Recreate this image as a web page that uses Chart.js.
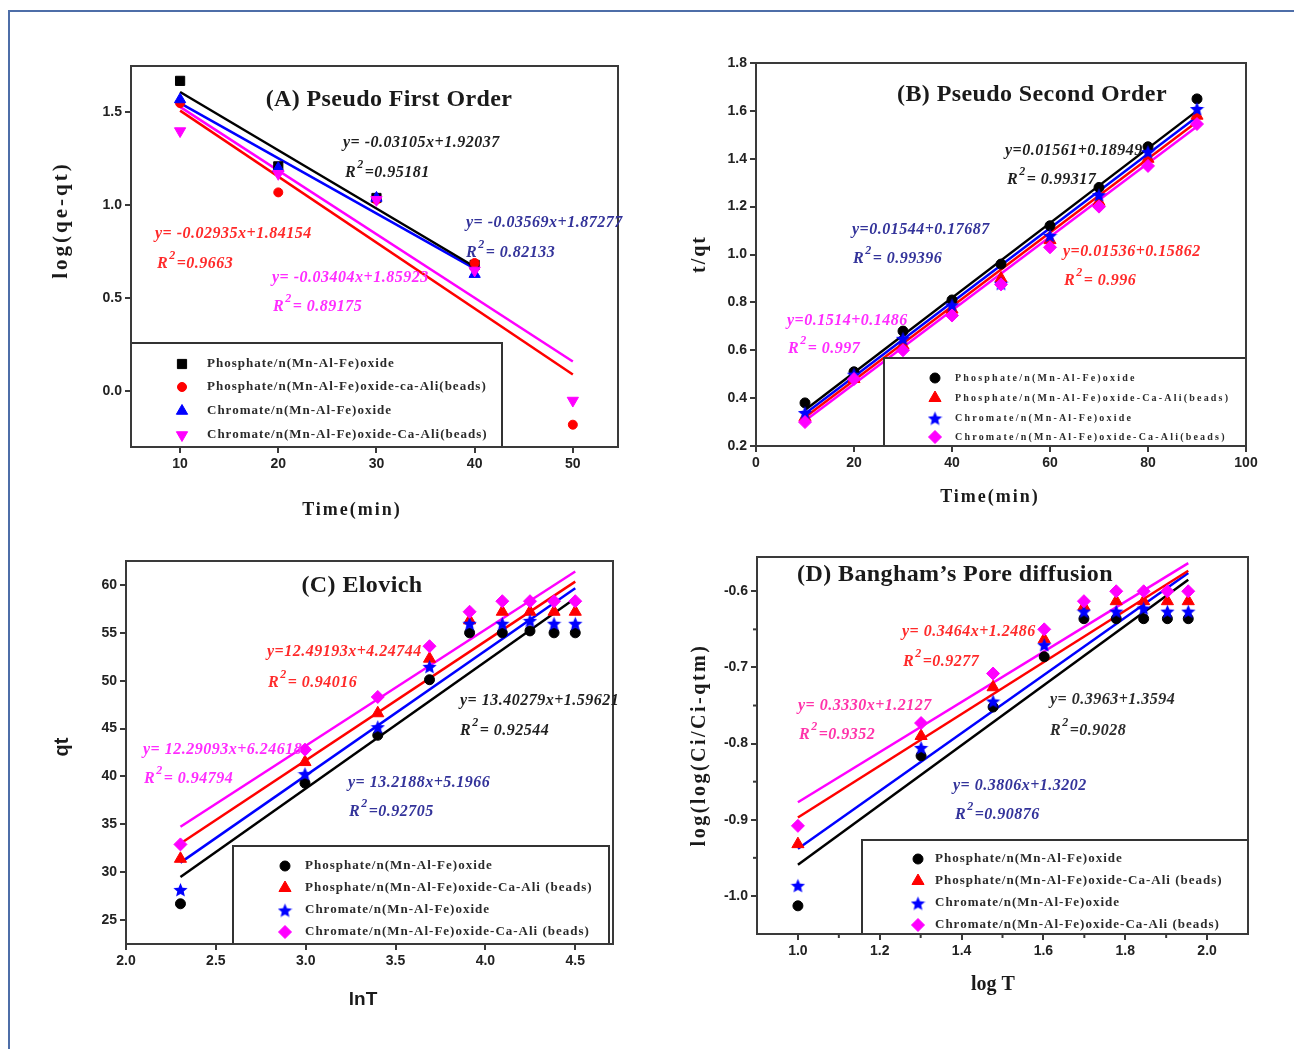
<!DOCTYPE html>
<html>
<head>
<meta charset="utf-8">
<title>Kinetic models</title>
<script src="https://cdn.jsdelivr.net/npm/chart.js@4.4.1/dist/chart.umd.min.js"></script>
<style>
    html, body { margin: 0; padding: 0; background: #fff; }
    #page { position: relative; width: 1294px; height: 1049px; overflow: hidden; background: #fff; }
    #frame { position: absolute; left: 8px; top: 10px; width: 1400px; height: 1200px;
             border-top: 2px solid #4e6ea8; border-left: 2px solid #4e6ea8; }
    canvas { position: absolute; }
</style>
</head>
<body>
<div id="page">
    <div id="frame"></div>
    <canvas id="chartA"></canvas>
    <canvas id="chartB"></canvas>
    <canvas id="chartC"></canvas>
    <canvas id="chartD"></canvas>
</div>
<script>
// ---- (A) Pseudo first order: log(qe-qt) vs time ----
const timeA = [10, 20, 30, 40, 50];
const logA_phosOxide  = [1.67, 1.21, 1.04, 0.68, null];
const logA_phosBeads  = [1.55, 1.07, 1.03, 0.69, -0.18];
const logA_chromOxide = [1.57, 1.20, 1.04, 0.63, null];
const logA_chromBeads = [1.40, 1.17, 1.03, 0.65, -0.05];
const fitA_x = [[10, 40], [10, 50], [10, 40], [10, 50]];
const fitA_y = [[1.61, 0.67], [1.51, 0.09], [1.55, 0.66], [1.53, 0.16]];
const xTicksA = [10, 20, 30, 40, 50];
const yTicksA = [0.0, 0.5, 1.0, 1.5];

// ---- (B) Pseudo second order: t/qt vs time ----
const timeB = [10, 20, 30, 40, 50, 60, 70, 80, 90];
const tqB_phosOxide  = [0.38, 0.51, 0.68, 0.81, 0.96, 1.12, 1.28, 1.45, 1.65];
const tqB_phosBeads  = [0.32, 0.48, 0.62, 0.77, 0.90, 1.06, 1.22, 1.40, 1.58];
const tqB_chromOxide = [0.34, 0.50, 0.65, 0.79, 0.88, 1.08, 1.25, 1.43, 1.61];
const tqB_chromBeads = [0.30, 0.48, 0.60, 0.745, 0.875, 1.03, 1.20, 1.37, 1.545];
const fitB_x = [[10, 90], [10, 90], [10, 90], [10, 90]];
const fitB_y = [[0.35, 1.60], [0.32, 1.555], [0.335, 1.575], [0.305, 1.535]];
const xTicksB = [0, 20, 40, 60, 80, 100];
const yTicksB = [0.2, 0.4, 0.6, 0.8, 1.0, 1.2, 1.4, 1.6, 1.8];

// ---- (C) Elovich: qt vs lnT ----
const lnT = [2.303, 2.996, 3.401, 3.689, 3.912, 4.094, 4.248, 4.382, 4.500];
const qtC_phosOxide  = [26.7, 39.3, 44.3, 50.1, 55.0, 55.0, 55.2, 55.0, 55.0];
const qtC_phosBeads  = [31.4, 41.5, 46.6, 52.3, 56.3, 57.2, 57.2, 57.2, 57.2];
const qtC_chromOxide = [28.2, 40.3, 45.2, 51.5, 56.0, 56.0, 56.3, 56.0, 56.0];
const qtC_chromBeads = [32.9, 42.8, 48.3, 53.6, 57.2, 58.3, 58.3, 58.3, 58.3];
const fitC_x = [[2.303, 4.5], [2.303, 4.5], [2.303, 4.5], [2.303, 4.5]];
const fitC_y = [[29.5, 58.6], [33.0, 60.35], [31.0, 59.65], [34.75, 61.4]];
const xTicksC = [2.0, 2.5, 3.0, 3.5, 4.0, 4.5];
const yTicksC = [25, 30, 35, 40, 45, 50, 55, 60];

// ---- (D) Bangham's pore diffusion: log(log(Ci/Ci-qtm)) vs log T ----
const logT = [1.000, 1.301, 1.477, 1.602, 1.699, 1.778, 1.845, 1.903, 1.954];
const bD_phosOxide  = [-1.013, -0.816, -0.752, -0.686, -0.636, -0.636, -0.636, -0.636, -0.636];
const bD_phosBeads  = [-0.932, -0.790, -0.726, -0.663, -0.620, -0.613, -0.613, -0.613, -0.613];
const bD_chromOxide = [-0.986, -0.805, -0.744, -0.670, -0.626, -0.626, -0.622, -0.626, -0.626];
const bD_chromBeads = [-0.908, -0.773, -0.708, -0.650, -0.613, -0.600, -0.600, -0.600, -0.600];
const fitD_x = [[1.0, 1.954], [1.0, 1.954], [1.0, 1.954], [1.0, 1.954]];
const fitD_y = [[-0.959, -0.585], [-0.897, -0.573], [-0.938, -0.576], [-0.877, -0.563]];
const xTicksD = [1.0, 1.2, 1.4, 1.6, 1.8, 2.0];
const yTicksD = [-1.0, -0.9, -0.8, -0.7, -0.6];
const xMinorD = [1.1, 1.3, 1.5, 1.7, 1.9];
const yMinorD = [-0.65, -0.75, -0.85, -0.95];

// Series names (legend text)
const labelsA = ['Phosphate/n(Mn-Al-Fe)oxide', 'Phosphate/n(Mn-Al-Fe)oxide-ca-Ali(beads)',
                 'Chromate/n(Mn-Al-Fe)oxide', 'Chromate/n(Mn-Al-Fe)oxide-Ca-Ali(beads)'];
const labelsB = ['Phosphate/n(Mn-Al-Fe)oxide', 'Phosphate/n(Mn-Al-Fe)oxide-Ca-Ali(beads)',
                 'Chromate/n(Mn-Al-Fe)oxide', 'Chromate/n(Mn-Al-Fe)oxide-Ca-Ali(beads)'];
const labelsCD = ['Phosphate/n(Mn-Al-Fe)oxide', 'Phosphate/n(Mn-Al-Fe)oxide-Ca-Ali (beads)',
                  'Chromate/n(Mn-Al-Fe)oxide', 'Chromate/n(Mn-Al-Fe)oxide-Ca-Ali (beads)'];

const seriesColors = ['#000000', '#ff0000', '#0000ff', '#ff00ff'];

// filled five point star, used as an image point style
function makeStar(color, size) {
    const c = document.createElement('canvas');
    c.width = size; c.height = size;
    const g = c.getContext('2d');
    const r = size / 2, ri = r * 0.45;
    g.beginPath();
    for (let k = 0; k < 10; k++) {
        const rad = k % 2 ? ri : r;
        const ang = -Math.PI / 2 + k * Math.PI / 5;
        g.lineTo(r + rad * Math.cos(ang), r + 1 + rad * Math.sin(ang));
    }
    g.closePath();
    g.fillStyle = color;
    g.fill();
    return c;
}
const blueStar = makeStar('#0000ff', 15);

const markersA = [
    { style: 'rect', radius: 6.5, rotation: 0 },
    { style: 'circle', radius: 4.5, rotation: 0 },
    { style: 'triangle', radius: 6.5, rotation: 0 },
    { style: 'triangle', radius: 6.5, rotation: 180 }
];
const markersB = [
    { style: 'circle', radius: 5, rotation: 0 },
    { style: 'triangle', radius: 7, rotation: 0 },
    { style: blueStar, radius: 7, rotation: 0 },
    { style: 'rectRot', radius: 6.5, rotation: 0 }
];

function toPoints(xs, ys) {
    return xs.map((x, i) => ({ x: x, y: ys[i] })).filter(p => p.y !== null);
}

function buildDatasets(xs, series, fitX, fitY, labels, markers) {
    const sets = [];
    series.forEach((ys, i) => {
        sets.push({
            label: labels[i],
            data: toPoints(xs, ys),
            showLine: false,
            order: 5 - i,
            pointStyle: markers[i].style,
            pointRotation: markers[i].rotation,
            pointRadius: markers[i].radius,
            pointBackgroundColor: seriesColors[i],
            pointBorderColor: seriesColors[i],
            pointBorderWidth: 1,
            backgroundColor: seriesColors[i],
            borderColor: seriesColors[i]
        });
    });
    series.forEach((ys, i) => {
        sets.push({
            label: '',
            isFit: true,
            order: 10,
            data: toPoints(fitX[i], fitY[i]),
            showLine: true,
            pointRadius: 0,
            borderColor: seriesColors[i],
            borderWidth: 2.5,
            fill: false
        });
    });
    return sets;
}

const SERIF = '"Liberation Serif", "Times New Roman", serif';
const SANS = '"Liberation Sans", Arial, sans-serif';

// Draws frame box, minor ticks, inner legend, title and the fit equations
const panelDecor = {
    id: 'panelDecor',
    afterDraw(chart, args, o) {
        const ctx = chart.ctx;
        const a = chart.chartArea;
        const ox = o.offX, oy = o.offY;
        ctx.save();

        // minor ticks
        ctx.strokeStyle = '#3a3a3a';
        ctx.lineWidth = 2;
        (o.minorX || []).forEach(v => {
            const px = chart.scales.x.getPixelForValue(v);
            ctx.beginPath(); ctx.moveTo(px, a.bottom); ctx.lineTo(px, a.bottom + 4); ctx.stroke();
        });
        (o.minorY || []).forEach(v => {
            const py = chart.scales.y.getPixelForValue(v);
            ctx.beginPath(); ctx.moveTo(a.left, py); ctx.lineTo(a.left - 4, py); ctx.stroke();
        });

        // legend box
        const lg = o.legend;
        ctx.fillStyle = '#ffffff';
        ctx.fillRect(lg.x1 - ox, lg.y1 - oy, lg.x2 - lg.x1, lg.y2 - lg.y1);
        ctx.strokeStyle = '#333333';
        ctx.lineWidth = 2;
        ctx.strokeRect(lg.x1 - ox, lg.y1 - oy, lg.x2 - lg.x1, lg.y2 - lg.y1);
        const sets = chart.data.datasets.filter(d => !d.isFit);
        sets.forEach((d, i) => {
            const y = lg.rows[i] - oy;
            ctx.fillStyle = d.pointBackgroundColor;
            ctx.strokeStyle = d.pointBorderColor;
            ctx.lineWidth = 1;
            Chart.helpers.drawPoint(ctx, {
                pointStyle: d.pointStyle, rotation: d.pointRotation || 0,
                radius: d.pointRadius, borderWidth: 1
            }, lg.markerX - ox, y);
            ctx.fillStyle = '#2a2a2a';
            ctx.font = lg.font;
            ctx.letterSpacing = lg.spacing;
            ctx.textAlign = 'left';
            ctx.textBaseline = 'middle';
            ctx.fillText(d.label, lg.textX - ox, y);
        });
        ctx.letterSpacing = '0px';

        // plot frame
        ctx.strokeStyle = '#3a3a3a';
        ctx.lineWidth = 2;
        ctx.strokeRect(a.left, a.top, a.right - a.left, a.bottom - a.top);

        // panel title
        ctx.fillStyle = '#1a1a1a';
        ctx.font = 'bold 24px ' + SERIF;
        ctx.letterSpacing = '0.4px';
        ctx.textAlign = 'center';
        ctx.textBaseline = 'middle';
        ctx.fillText(o.title.text, o.title.x - ox, o.title.y - oy);

        // fit equations
        ctx.letterSpacing = '0.5px';
        o.equations.forEach(t => {
            ctx.fillStyle = t.color;
            ctx.textAlign = 'left';
            ctx.textBaseline = 'middle';
            ctx.font = 'italic bold 16px ' + SERIF;
            ctx.fillText(t.eq, t.x - ox, t.y - oy);
            let x = t.rx - ox;
            const y = t.ry - oy;
            ctx.fillText('R', x, y);
            x += ctx.measureText('R').width;
            ctx.font = 'italic bold 12px ' + SERIF;
            ctx.fillText('2', x + 1, y - 8);
            x += ctx.measureText('2').width + 2;
            ctx.font = 'italic bold 16px ' + SERIF;
            ctx.fillText(t.r2, x, y);
        });

        // axis titles
        ctx.fillStyle = '#1a1a1a';
        ctx.textAlign = 'center';
        ctx.textBaseline = 'middle';
        ctx.font = o.xTitle.font;
        ctx.letterSpacing = o.xTitle.spacing || '0px';
        ctx.fillText(o.xTitle.text, o.xTitle.x - ox, o.xTitle.y - oy);
        ctx.save();
        ctx.translate(o.yTitle.x - ox, o.yTitle.y - oy);
        ctx.rotate(-Math.PI / 2);
        ctx.font = o.yTitle.font;
        ctx.letterSpacing = o.yTitle.spacing || '0px';
        ctx.fillText(o.yTitle.text, 0, 0);
        ctx.restore();
        ctx.letterSpacing = '0px';

        ctx.restore();
    }
};

const PAD = { left: 110, top: 30, right: 30, bottom: 90 };

function axisOpts(min, max, ticks, fmt, isY) {
    return {
        type: 'linear',
        min: min,
        max: max,
        afterBuildTicks: s => { s.ticks = ticks.map(v => ({ value: v })); },
        afterFit: s => { if (isY) { s.width = PAD.left; } else { s.height = PAD.bottom; } },
        grid: { drawOnChartArea: false, drawTicks: true, tickLength: 6, color: '#3a3a3a', lineWidth: 2 },
        border: { display: true, color: '#3a3a3a', width: 2 },
        ticks: {
            autoSkip: false, maxRotation: 0, padding: 3, color: '#222',
            font: { family: SANS, weight: 'bold', size: 14 },
            callback: v => fmt(v)
        }
    };
}

function buildPanel(id, cfg) {
    const canvas = document.getElementById(id);
    const w = cfg.plot.right - cfg.plot.left + PAD.left + PAD.right;
    const h = cfg.plot.bottom - cfg.plot.top + PAD.top + PAD.bottom;
    const offX = cfg.plot.left - PAD.left;
    const offY = cfg.plot.top - PAD.top;
    canvas.width = w; canvas.height = h;
    canvas.style.left = offX + 'px';
    canvas.style.top = offY + 'px';
    canvas.style.width = w + 'px';
    canvas.style.height = h + 'px';

    new Chart(canvas, {
        type: 'scatter',
        data: { datasets: cfg.datasets },
        options: {
            responsive: false,
            animation: false,
            devicePixelRatio: 1,
            layout: { padding: { left: 0, top: PAD.top, right: PAD.right, bottom: 0 } },
            plugins: {
                legend: { display: false },
                tooltip: { enabled: false },
                panelDecor: Object.assign({ offX: offX, offY: offY }, cfg.decor)
            },
            scales: {
                x: axisOpts(cfg.x.min, cfg.x.max, cfg.x.ticks, cfg.x.fmt, false),
                y: axisOpts(cfg.y.min, cfg.y.max, cfg.y.ticks, cfg.y.fmt, true)
            }
        },
        plugins: [panelDecor]
    });
}

const EQ_BLACK = '#1e1e1e', EQ_RED = '#ff2a2a', EQ_BLUE = '#33339a', EQ_MAG = '#ff2cff';
const fmt0 = v => String(Math.round(v));
const fmt1 = v => v.toFixed(1);

document.addEventListener('DOMContentLoaded', function () {
    buildPanel('chartA', {
        plot: { left: 131, top: 66, right: 618, bottom: 447 },
        x: { min: 5, max: 54.6, ticks: xTicksA, fmt: fmt0 },
        y: { min: -0.3, max: 1.75, ticks: yTicksA, fmt: fmt1 },
        datasets: buildDatasets(timeA, [logA_phosOxide, logA_phosBeads, logA_chromOxide, logA_chromBeads],
                                fitA_x, fitA_y, labelsA, markersA),
        decor: {
            title: { text: '(A) Pseudo First Order', x: 389, y: 100 },
            xTitle: { text: 'Time(min)', x: 352, y: 510, font: 'bold 18px ' + SERIF, spacing: '2px' },
            yTitle: { text: 'log(qe-qt)', x: 62, y: 220, font: 'bold 21px ' + SERIF, spacing: '3px' },
            legend: { x1: 131, y1: 343, x2: 502, y2: 447, markerX: 182, textX: 207,
                      rows: [364, 387, 411, 435], font: 'bold 13px ' + SERIF, spacing: '1px' },
            equations: [
                { eq: 'y= -0.03105x+1.92037', r2: '=0.95181', x: 343, y: 143, rx: 345, ry: 173, color: EQ_BLACK },
                { eq: 'y= -0.03569x+1.87277', r2: '= 0.82133', x: 466, y: 223, rx: 466, ry: 253, color: EQ_BLUE },
                { eq: 'y= -0.02935x+1.84154', r2: '=0.9663', x: 155, y: 234, rx: 157, ry: 264, color: EQ_RED },
                { eq: 'y= -0.03404x+1.85923', r2: '= 0.89175', x: 272, y: 278, rx: 273, ry: 307, color: EQ_MAG }
            ]
        }
    });

    buildPanel('chartB', {
        plot: { left: 756, top: 63, right: 1246, bottom: 446 },
        x: { min: 0, max: 100, ticks: xTicksB, fmt: fmt0 },
        y: { min: 0.2, max: 1.8, ticks: yTicksB, fmt: fmt1 },
        datasets: buildDatasets(timeB, [tqB_phosOxide, tqB_phosBeads, tqB_chromOxide, tqB_chromBeads],
                                fitB_x, fitB_y, labelsB, markersB),
        decor: {
            title: { text: '(B) Pseudo Second Order', x: 1032, y: 95 },
            xTitle: { text: 'Time(min)', x: 990, y: 497, font: 'bold 18px ' + SERIF, spacing: '2px' },
            yTitle: { text: 't/qt', x: 700, y: 254, font: 'bold 20px ' + SERIF, spacing: '2px' },
            legend: { x1: 884, y1: 358, x2: 1246, y2: 446, markerX: 935, textX: 955,
                      rows: [378, 398, 418, 437], font: 'bold 10px ' + SERIF, spacing: '2.2px' },
            equations: [
                { eq: 'y=0.01561+0.18949', r2: '= 0.99317', x: 1005, y: 151, rx: 1007, ry: 180, color: EQ_BLACK },
                { eq: 'y=0.01544+0.17687', r2: '= 0.99396', x: 852, y: 230, rx: 853, ry: 259, color: EQ_BLUE },
                { eq: 'y=0.01536+0.15862', r2: '= 0.996', x: 1063, y: 252, rx: 1064, ry: 281, color: EQ_RED },
                { eq: 'y=0.1514+0.1486', r2: '= 0.997', x: 787, y: 321, rx: 788, ry: 349, color: EQ_MAG }
            ]
        }
    });

    buildPanel('chartC', {
        plot: { left: 126, top: 561, right: 613, bottom: 944 },
        x: { min: 2.0, max: 4.71, ticks: xTicksC, fmt: fmt1 },
        y: { min: 22.5, max: 62.5, ticks: yTicksC, fmt: fmt0 },
        datasets: buildDatasets(lnT, [qtC_phosOxide, qtC_phosBeads, qtC_chromOxide, qtC_chromBeads],
                                fitC_x, fitC_y, labelsCD, markersB),
        decor: {
            title: { text: '(C) Elovich', x: 362, y: 586 },
            xTitle: { text: 'lnT', x: 363, y: 1000, font: 'bold 19px ' + SANS },
            yTitle: { text: 'qt', x: 62, y: 747, font: 'bold 20px ' + SANS },
            legend: { x1: 233, y1: 846, x2: 609, y2: 944, markerX: 285, textX: 305,
                      rows: [866, 888, 910, 932], font: 'bold 13px ' + SERIF, spacing: '1px' },
            equations: [
                { eq: 'y=12.49193x+4.24744', r2: '= 0.94016', x: 267, y: 652, rx: 268, ry: 683, color: EQ_RED },
                { eq: 'y= 13.40279x+1.59621', r2: '= 0.92544', x: 460, y: 701, rx: 460, ry: 731, color: EQ_BLACK },
                { eq: 'y= 12.29093x+6.24618', r2: '= 0.94794', x: 143, y: 750, rx: 144, ry: 779, color: EQ_MAG },
                { eq: 'y= 13.2188x+5.1966', r2: '=0.92705', x: 348, y: 783, rx: 349, ry: 812, color: EQ_BLUE }
            ]
        }
    });

    buildPanel('chartD', {
        plot: { left: 757, top: 557, right: 1248, bottom: 934 },
        x: { min: 0.9, max: 2.1, ticks: xTicksD, fmt: fmt1 },
        y: { min: -1.05, max: -0.555, ticks: yTicksD, fmt: fmt1 },
        datasets: buildDatasets(logT, [bD_phosOxide, bD_phosBeads, bD_chromOxide, bD_chromBeads],
                                fitD_x, fitD_y, labelsCD, markersB),
        decor: {
            title: { text: '(D) Bangham\u2019s Pore diffusion', x: 955, y: 575 },
            xTitle: { text: 'log T', x: 993, y: 985, font: 'bold 20px ' + SERIF },
            yTitle: { text: 'log(log(Ci/Ci-qtm)', x: 700, y: 745, font: 'bold 20px ' + SERIF, spacing: '2.5px' },
            legend: { x1: 862, y1: 840, x2: 1248, y2: 934, markerX: 918, textX: 935,
                      rows: [859, 881, 903, 925], font: 'bold 13px ' + SERIF, spacing: '1px' },
            minorX: xMinorD,
            minorY: yMinorD,
            equations: [
                { eq: 'y= 0.3464x+1.2486', r2: '=0.9277', x: 902, y: 632, rx: 903, ry: 662, color: EQ_RED },
                { eq: 'y= 0.3330x+1.2127', r2: '=0.9352', x: 798, y: 706, rx: 799, ry: 735, color: '#ff33aa' },
                { eq: 'y= 0.3963+1.3594', r2: '=0.9028', x: 1050, y: 700, rx: 1050, ry: 731, color: '#2a2a2a' },
                { eq: 'y= 0.3806x+1.3202', r2: '=0.90876', x: 953, y: 786, rx: 955, ry: 815, color: EQ_BLUE }
            ]
        }
    });
});
</script>
</body>
</html>
